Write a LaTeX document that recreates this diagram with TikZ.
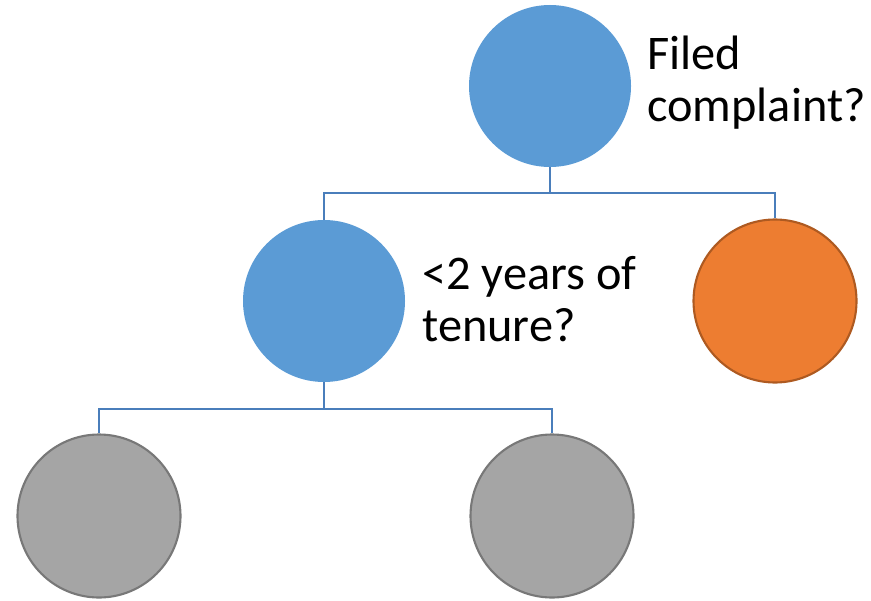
\documentclass[tikz,border=0pt]{standalone}
\usepackage{fontspec}
\setmainfont{Carlito}
\definecolor{dtblue}{RGB}{91,155,213}
\definecolor{dtline}{RGB}{74,126,187}
\definecolor{dtorange}{RGB}{237,125,49}
\definecolor{dtorangedark}{RGB}{174,90,33}
\definecolor{dtgray}{RGB}{165,165,165}
\definecolor{dtgraydark}{RGB}{120,120,120}
\usetikzlibrary{positioning,calc}

\begin{document}
\begin{tikzpicture}[
    split/.style={circle, minimum size=3.24cm, inner sep=0pt, fill=dtblue},
    leaf/.style={circle, minimum size=3.26cm, inner sep=0pt, line width=1.2pt},
    qtext/.style={font=\fontsize{27.5pt}{29.5pt}\selectfont, align=left, inner sep=0pt, anchor=base west},
    conn/.style={line width=1.5pt, dtline}
  ]
    \useasboundingbox (0,0) rectangle (17.42,12);

    \node[split] (root) at (11.0, 10.28) {};
    \node[split] (tenure) at (6.48, 5.98) {};
    \node[leaf, fill=dtorange, draw=dtorangedark] (right) at (15.5, 5.98) {};
    \node[leaf, fill=dtgray, draw=dtgraydark] (ll) at (1.98, 1.68) {};
    \node[leaf, fill=dtgray, draw=dtgraydark] (lr) at (11.04, 1.68) {};

    % Questions next to the splits
    \node[qtext] (q1) at (12.94, 9.58) {Filed\\complaint?};
    \node[qtext] (q2) at (8.44, 5.18) {<2 years of\\tenure?};

    % Branches
    \coordinate (j1) at (11.0, 8.14);
    \coordinate (j2) at (6.48, 3.82);
    \draw[conn] (root.south) -- (j1);
    \draw[conn] (j1) -| (tenure.north);
    \draw[conn] (j1) -| (right.north);
    \draw[conn] (tenure.south) -- (j2);
    \draw[conn] (j2) -| (ll.north);
    \draw[conn] (j2) -| (lr.north);
  \end{tikzpicture}
\end{document}
